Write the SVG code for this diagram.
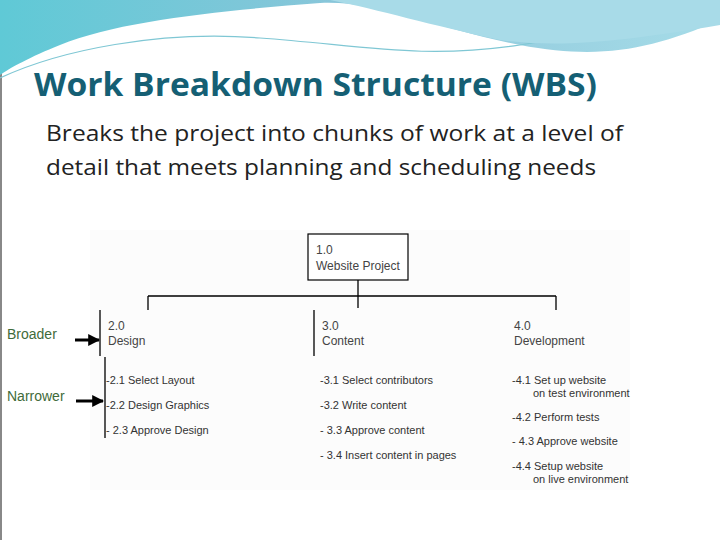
<svg xmlns="http://www.w3.org/2000/svg" width="720" height="540" viewBox="0 0 720 540">
<defs>
<linearGradient id="wave" x1="0" y1="0" x2="1" y2="0"><stop offset="0" stop-color="#5fc9d6"/><stop offset="0.5" stop-color="#8cc6da"/><stop offset="1" stop-color="#a6dce8"/></linearGradient>
<marker id="ah" viewBox="0 0 10 10" refX="9" refY="5" markerWidth="4" markerHeight="4" orient="auto"><path d="M0,0L10,5L0,10z" fill="#000"/></marker>
</defs>
<style>
.t{font-family:"Liberation Sans",Arial,sans-serif;font-size:11px;fill:#333}
.n{font-family:"Liberation Sans",Arial,sans-serif;font-size:12px;fill:#444}
.lab{font-family:"Liberation Sans",Arial,sans-serif;font-size:14px;fill:#3f6b3a}
.ln{stroke:#000;stroke-width:1.3;fill:none}
</style>
<rect width="720" height="540" fill="#fff"/>
<rect x="0" y="0" width="2" height="540" fill="#888"/>
<path d="M0,0H720V20C650,50 600,60 520,45C440,30 380,0 320,3C230,10 120,20 60,45C30,57 10,68 0,75Z" fill="url(#wave)"/>
<path d="M0,78C60,50 160,30 260,38C360,45 420,60 520,45C600,32 680,15 720,5" stroke="#7fc7d4" stroke-width="1.2" fill="none"/>
<path d="M330,0C380,10 430,25 500,40C560,48 620,42 720,25V0Z" fill="#a8dbe8"/>
<text x="34" y="96" font-family="Open Sans,sans-serif" font-weight="bold" font-size="32" fill="#155f74" textLength="563" lengthAdjust="spacingAndGlyphs">Work Breakdown Structure (WBS)</text>
<text x="46" y="141" font-family="Open Sans,sans-serif" font-size="22" fill="#222" textLength="577" lengthAdjust="spacingAndGlyphs">Breaks the project into chunks of work at a level of</text>
<text x="46" y="175" font-family="Open Sans,sans-serif" font-size="22" fill="#222" textLength="550" lengthAdjust="spacingAndGlyphs">detail that meets planning and scheduling needs</text>
<rect x="90" y="230" width="540" height="260" fill="#fcfcfc"/>
<g id="connectors">
<path class="ln" d="M358,280V296M148,296H556M148,296V310M358,296V308M556,296V310"/>
<path class="ln" d="M100,310V356M314,310V356M105,357V438"/>
<path d="M75,340H99" stroke="#000" stroke-width="3" marker-end="url(#ah)"/>
<path d="M76,401H103" stroke="#000" stroke-width="3" marker-end="url(#ah)"/>
</g>
<g id="n1"><rect x="308" y="234" width="100" height="46" fill="#fff" stroke="#000" stroke-width="1.2"/><text class="n" x="316" y="254">1.0</text><text class="n" x="316" y="270">Website Project</text></g>
<g id="n2"><text class="n" x="108" y="330">2.0</text><text class="n" x="108" y="345">Design</text></g>
<g id="n3"><text class="n" x="322" y="330">3.0</text><text class="n" x="322" y="345">Content</text></g>
<g id="n4"><text class="n" x="514" y="330">4.0</text><text class="n" x="514" y="345">Development</text></g>
<g id="l2"><text class="t" x="106" y="384">-2.1 Select Layout</text><text class="t" x="106" y="409">-2.2 Design Graphics</text><text class="t" x="106" y="434">- 2.3 Approve Design</text></g>
<g id="l3"><text class="t" x="320" y="384">-3.1 Select contributors</text><text class="t" x="320" y="409">-3.2 Write content</text><text class="t" x="320" y="434">- 3.3 Approve content</text><text class="t" x="320" y="459">- 3.4 Insert content in pages</text></g>
<g id="l4"><text class="t" x="512" y="384">-4.1 Set up website</text><text class="t" x="533" y="397">on test environment</text><text class="t" x="512" y="421">-4.2 Perform tests</text><text class="t" x="512" y="445">- 4.3 Approve website</text><text class="t" x="512" y="470">-4.4 Setup website</text><text class="t" x="533" y="483">on live environment</text></g>
<g id="labels"><text class="lab" x="7" y="339">Broader</text><text class="lab" x="7" y="401">Narrower</text></g>
</svg>
